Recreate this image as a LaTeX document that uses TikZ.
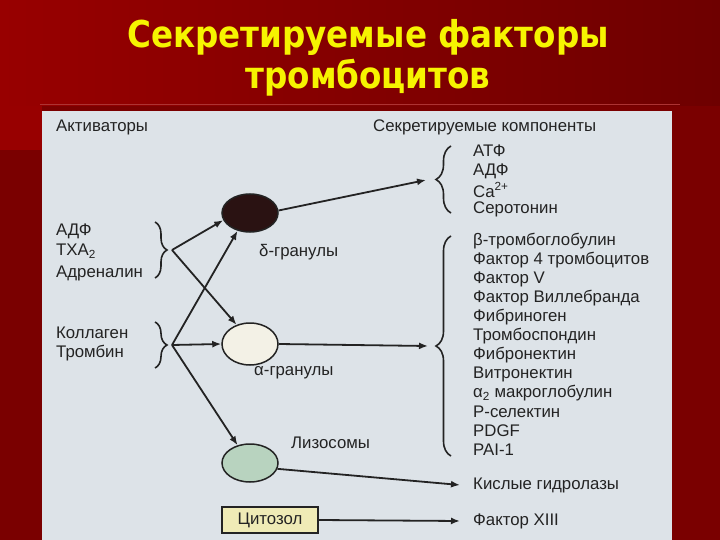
\documentclass[tikz,border=0pt]{standalone}
\usepackage{fontspec}
\setmainfont{Liberation Sans}
\newfontfamily\titlefont{DejaVu Sans}
\usetikzlibrary{arrows.meta,shapes.geometric,decorations.pathreplacing}
\definecolor{bgred}{HTML}{7A0000}
\definecolor{bandL}{HTML}{980000}
\definecolor{bandR}{HTML}{6E0000}
\definecolor{panel}{HTML}{DDE3E8}
\definecolor{ink}{HTML}{232323}
\definecolor{ttl}{HTML}{F6F400}
\definecolor{dgran}{HTML}{2A1212}
\definecolor{agran}{HTML}{F3F1E6}
\definecolor{lgran}{HTML}{B8D3BF}
\definecolor{cyto}{HTML}{EFEBB6}
\begin{document}
\begin{tikzpicture}[x=1pt,y=-1pt,
  lbl/.style={anchor=west,inner sep=1pt,text=ink,font=\fontsize{16.8}{19}\selectfont},
  ttlstyle/.style={anchor=base,text=ttl,inner sep=0pt,font=\titlefont\bfseries\fontsize{37}{40}\selectfont},
  gran/.style={ellipse,draw=ink,line width=1.5pt,minimum width=56pt,minimum height=38pt,inner sep=0pt},
  arr/.style={draw=ink,line width=1.8pt,-{Latex[length=9pt,width=7pt]}},
  bracestyle/.style={draw=ink,line width=1.6pt,decorate,decoration={brace,amplitude=#1}}]
\useasboundingbox (0,0) rectangle (720,540);
% background
\fill[bgred] (0,0) rectangle (720,540);
\shade[left color=bandL,right color=bandR] (0,0) rectangle (720,106);
\fill[bandL] (0,106) rectangle (42,150);
\draw[color=bandL!80!white,line width=0.6pt] (40,104) -- (680,104);
\fill[panel] (42,111) rectangle (672,540);
% title
\node[ttlstyle] (t1) at (368,48) {\scalebox{0.88}[1]{Секретируемые факторы}};
\node[ttlstyle] (t2) at (368,89) {\scalebox{0.88}[1]{тромбоцитов}};
% headers
\node[lbl] (act) at (55,127) {Активаторы};
\node[lbl] (sec) at (372,127) {Секретируемые компоненты};
% activators
\node[lbl] (adp) at (55,231) {АДФ};
\node[lbl] (txa) at (55,251) {ТХА\textsubscript{2}};
\node[lbl] (adr) at (55,273) {Адреналин};
\node[lbl] (col) at (55,333) {Коллаген};
\node[lbl] (thr) at (55,353) {Тромбин};
\draw[bracestyle=12pt] (155,222) -- (155,278);
\draw[bracestyle=12pt] (155,322) -- (155,368);
\coordinate (ta) at (172,250);
\coordinate (tb) at (172,345);
% granules
\node[gran,fill=dgran] (delta) at (250,213) {};
\node[gran,fill=agran,minimum height=42pt] (alpha) at (250,344) {};
\node[gran,fill=lgran] (lyso) at (250,463) {};
\node[draw=ink,line width=1.5pt,fill=cyto,minimum width=96pt,minimum height=26pt,inner sep=0pt,text=ink,font=\fontsize{16.8}{19}\selectfont] (cyt) at (270,520) {Цитозол};
\node[lbl] (dlab) at (258,252) {δ-гранулы};
\node[lbl] (alab) at (253,373) {α-гранулы};
\node[lbl] (llab) at (290,443) {Лизосомы};
% secreted components
\node[lbl] (atp) at (472,151) {АТФ};
\node[lbl] (adp2) at (472,171) {АДФ};
\node[lbl] (ca) at (472,190) {Ca\textsuperscript{2+}};
\node[lbl] (ser) at (472,209) {Серотонин};
\draw[bracestyle=15pt] (451,213) -- (451,146);
\node[lbl] (a1) at (472,241) {β-тромбоглобулин};
\node[lbl] (a2) at (472,260) {Фактор 4 тромбоцитов};
\node[lbl] (a3) at (472,279) {Фактор V};
\node[lbl] (a4) at (472,298) {Фактор Виллебранда};
\node[lbl] (a5) at (472,317) {Фибриноген};
\node[lbl] (a6) at (472,336) {Тромбоспондин};
\node[lbl] (a7) at (472,355) {Фибронектин};
\node[lbl] (a8) at (472,374) {Витронектин};
\node[lbl] (a9) at (472,393) {α\textsubscript{2} макроглобулин};
\node[lbl] (a10) at (472,412) {Р-селектин};
\node[lbl] (a11) at (472,431) {PDGF};
\node[lbl] (a12) at (472,450) {PAI-1};
\draw[bracestyle=15pt] (451,456) -- (451,236);
\node[lbl] (kis) at (472,485) {Кислые гидролазы};
\node[lbl] (f13) at (472,521) {Фактор XIII};
\coordinate (b1) at (426,180);
\coordinate (b2) at (428,346);
% connectors
\draw[arr] (ta) -- (delta.195);
\draw[arr] (ta) -- (alpha.125);
\draw[arr] (tb) -- (delta.235);
\draw[arr] (tb) -- (alpha.west);
\draw[arr] (tb) -- (lyso.125);
\draw[arr] (delta.5) -- (b1);
\draw[arr] (alpha.east) -- (b2);
\draw[arr] (lyso.-12) -- ([xshift=-12pt]kis.west);
\draw[arr] (cyt.east) -- ([xshift=-12pt]f13.west);
\end{tikzpicture}
\end{document}
